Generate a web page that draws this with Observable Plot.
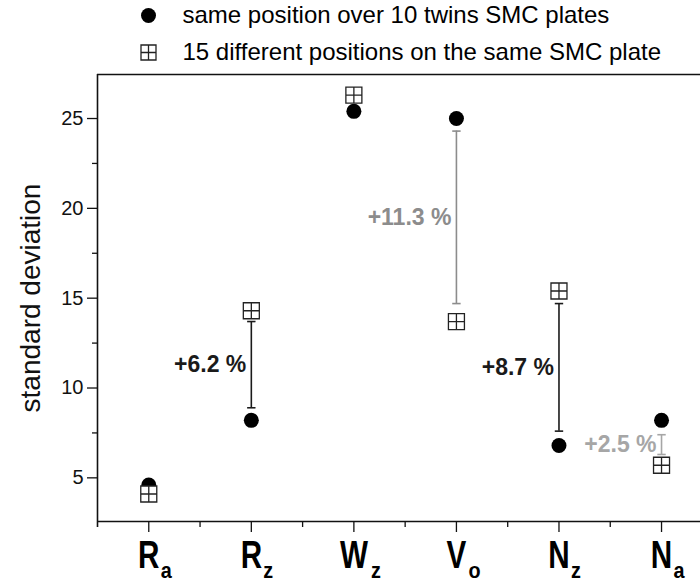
<!DOCTYPE html>
<html>
<head>
<meta charset="utf-8">
<script src="https://cdn.jsdelivr.net/npm/d3@7"></script>
<script src="https://cdn.jsdelivr.net/npm/@observablehq/plot@0.6"></script>
<style>
  html, body { margin: 0; padding: 0; background: #fff; }
  #chart { width: 700px; height: 583px; overflow: hidden; }
</style>
</head>
<body>
<div id="chart"></div>
<script>
// ---- data ----
const cats = ["Ra", "Rz", "Wz", "Vo", "Nz", "Na"];
const catLetter = ["R", "R", "W", "V", "N", "N"];
const catSub = ["a", "z", "z", "o", "z", "a"];
const samePosition = [4.6, 8.2, 25.4, 25.0, 6.8, 8.2];     // filled circles
const diffPositions = [4.1, 14.3, 26.3, 13.7, 15.4, 5.7];  // squares with cross
const barCats = [1, 3, 4, 5];
const barLow = [8.9, 14.7, 7.6, 6.3];
const barHigh = [13.7, 24.3, 14.7, 7.4];
const barLabels = ["+6.2 %", "+11.3 %", "+8.7 %", "+2.5 %"];
const barColors = ["#1a1a1a", "#8c8c8c", "#1a1a1a", "#a6a6a6"];
const yTicks = [5, 10, 15, 20, 25];
const yMinor = [7.5, 12.5, 17.5, 22.5];
const xTicks = [0, 1, 2, 3, 4, 5];
const xMinor = [0.5, 1.5, 2.5, 3.5, 4.5];
const legendLabels = ["same position over 10 twins SMC plates", "15 different positions on the same SMC plate"];
const yLabel = "standard deviation";

const xDomain = [-0.5, 5.38];
const yDomain = [2.57, 27.45];

const squarePlus = {
  draw(ctx, size) {
    const r = Math.sqrt(size / Math.PI);
    ctx.moveTo(-r, -r); ctx.lineTo(r, -r); ctx.lineTo(r, r); ctx.lineTo(-r, r); ctx.closePath();
    ctx.moveTo(0, -r); ctx.lineTo(0, r);
    ctx.moveTo(-r, 0); ctx.lineTo(r, 0);
  }
};
const capLine = {
  draw(ctx, size) {
    const r = Math.sqrt(size / Math.PI);
    ctx.moveTo(-r, 0); ctx.lineTo(r, 0);
  }
};

const idx = cats.map((d, i) => i);
const bidx = barCats.map((d, i) => i);

const chart = Plot.plot({
  width: 700,
  height: 583,
  marginTop: 74,
  marginBottom: 62,
  marginLeft: 97,
  marginRight: 0,
  style: { fontFamily: "'Liberation Sans', Arial, sans-serif", color: "#111", background: "#fff" },
  x: { type: "linear", domain: xDomain, axis: null },
  y: { domain: yDomain, axis: null },
  color: { type: "identity" },
  marks: [
    // frame lines
    Plot.ruleY([yDomain[1]], { stroke: "#111", strokeWidth: 1.6 }),
    Plot.ruleY([yDomain[0]], { stroke: "#111", strokeWidth: 1.6 }),
    Plot.ruleX([xDomain[0]], { stroke: "#111", strokeWidth: 1.6, insetBottom: -6 }),
    // y axis
    Plot.axisY({ ticks: yTicks, tickSize: 10, tickPadding: 4, fontSize: 20, label: null, stroke: "#111", strokeWidth: 1.3 }),
    Plot.axisY({ ticks: yMinor, tickSize: 5, text: null, label: null, stroke: "#111", strokeWidth: 1.3 }),
    // x axis ticks
    Plot.axisX({ ticks: xTicks, tickSize: 11, text: null, label: null, stroke: "#111", strokeWidth: 1.3 }),
    Plot.axisX({ ticks: xMinor, tickSize: 6, text: null, label: null, stroke: "#111", strokeWidth: 1.3 }),
    // x labels with subscripts
    Plot.text(idx, { x: i => i, text: i => catLetter[i], frameAnchor: "bottom", lineAnchor: "bottom", dy: 46, fontSize: 38, fontWeight: "bold", fill: "#000", className: "narrow-label" }),
    Plot.text(idx, { filter: i => catLetter[i] !== "W", x: i => i, text: i => catSub[i], frameAnchor: "bottom", lineAnchor: "bottom", dy: 56, dx: 12, textAnchor: "start", fontSize: 22, fontWeight: "bold", fill: "#000", className: "narrow-sub" }),
    Plot.text(idx, { filter: i => catLetter[i] === "W", x: i => i, text: i => catSub[i], frameAnchor: "bottom", lineAnchor: "bottom", dy: 56, dx: 17, textAnchor: "start", fontSize: 22, fontWeight: "bold", fill: "#000", className: "narrow-sub" }),
    // y label
    Plot.text([yLabel], { frameAnchor: "left", textAnchor: "middle", rotate: -90, dx: -66, fontSize: 28, fill: "#111" }),
    // error bars
    Plot.ruleX(bidx, { x: i => barCats[i], y1: i => barLow[i], y2: i => barHigh[i], stroke: i => barColors[i], strokeWidth: 1.6 }),
    Plot.dot(bidx, { x: i => barCats[i], y: i => barLow[i], symbol: capLine, r: 4.2, stroke: i => barColors[i], strokeWidth: 1.6 }),
    Plot.dot(bidx, { x: i => barCats[i], y: i => barHigh[i], symbol: capLine, r: 4.2, stroke: i => barColors[i], strokeWidth: 1.6 }),
    Plot.text(bidx, { x: i => barCats[i], y: i => (barLow[i] + barHigh[i]) / 2, text: i => barLabels[i], fill: i => barColors[i], textAnchor: "end", dx: -5, fontSize: 23, fontWeight: "bold" }),
    // points
    Plot.dot(idx, { x: i => i, y: i => samePosition[i], r: 7.5, fill: "#000" }),
    Plot.dot(idx, { x: i => i, y: i => diffPositions[i], symbol: squarePlus, r: 8, fill: "#fff", stroke: "#222", strokeWidth: 1.3 }),
    // legend
    Plot.dot([0], { frameAnchor: "top-left", dx: 51, dy: -59, r: 7.5, fill: "#000" }),
    Plot.dot([0], { frameAnchor: "top-left", dx: 51, dy: -22, r: 7.5, symbol: squarePlus, fill: "#fff", stroke: "#222", strokeWidth: 1.3 }),
    Plot.text([legendLabels[0]], { frameAnchor: "top-left", dx: 85, dy: -59, textAnchor: "start", lineAnchor: "middle", fontSize: 24, fill: "#000" }),
    Plot.text([legendLabels[1]], { frameAnchor: "top-left", dx: 85, dy: -22, textAnchor: "start", lineAnchor: "middle", fontSize: 24, fill: "#000" })
  ]
});
document.getElementById("chart").appendChild(chart);

// condense the category letters horizontally (narrow bold face look)
function condense(selector, sx) {
  chart.querySelectorAll(selector + " text").forEach(el => {
    const x = +el.getAttribute("x") || 0;
    const y = +el.getAttribute("y") || 0;
    const t = el.getAttribute("transform") || "";
    el.removeAttribute("x");
    el.removeAttribute("y");
    el.setAttribute("transform", `${t} translate(${x},${y}) scale(${sx},1)`.trim());
  });
}
condense(".narrow-label", 0.78);
condense(".narrow-sub", 0.9);
</script>
</body>
</html>
